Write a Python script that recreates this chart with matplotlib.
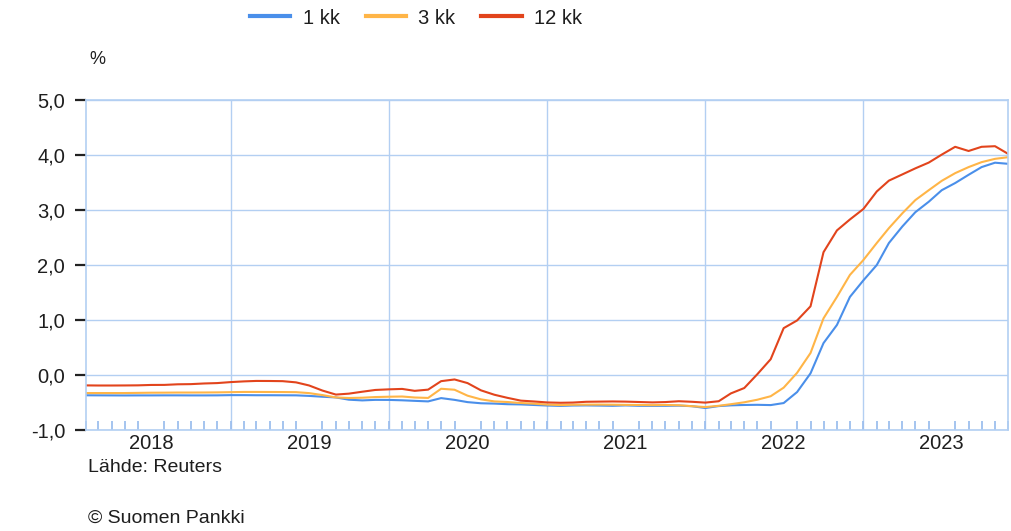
import numpy as np
import pandas as pd
import matplotlib
matplotlib.use("Agg")
import matplotlib.pyplot as plt
import matplotlib.dates as mdates
from matplotlib.ticker import FixedLocator, FuncFormatter

# Monthly averages, Jan 2018 .. Nov 2023
months = pd.period_range("2018-01", "2023-11", freq="M")

kk1 = [
    -0.369, -0.370, -0.371, -0.372, -0.371, -0.371, -0.370, -0.370, -0.371, -0.371, -0.370, -0.366,
    -0.366, -0.368, -0.368, -0.369, -0.370, -0.380, -0.395, -0.408, -0.449, -0.462, -0.452, -0.453,
    -0.460, -0.470, -0.480, -0.420, -0.452, -0.493, -0.514, -0.520, -0.531, -0.535, -0.545, -0.555,
    -0.562, -0.555, -0.553, -0.556, -0.560, -0.553, -0.560, -0.561, -0.560, -0.557, -0.567, -0.600,
    -0.565, -0.552, -0.545, -0.542, -0.547, -0.510, -0.310, 0.030, 0.580, 0.910, 1.420, 1.720,
    2.000, 2.400, 2.700, 2.960, 3.150, 3.360, 3.490, 3.640, 3.780, 3.860, 3.840,
]
kk3 = [
    -0.328, -0.328, -0.328, -0.328, -0.325, -0.322, -0.321, -0.319, -0.319, -0.318, -0.316, -0.312,
    -0.308, -0.308, -0.309, -0.310, -0.312, -0.329, -0.365, -0.408, -0.418, -0.413, -0.401, -0.395,
    -0.391, -0.409, -0.417, -0.250, -0.268, -0.376, -0.443, -0.480, -0.491, -0.509, -0.521, -0.538,
    -0.547, -0.541, -0.539, -0.538, -0.540, -0.543, -0.545, -0.548, -0.545, -0.550, -0.567, -0.583,
    -0.560, -0.531, -0.496, -0.450, -0.386, -0.230, 0.040, 0.400, 1.030, 1.420, 1.820, 2.090,
    2.400, 2.670, 2.940, 3.180, 3.360, 3.530, 3.670, 3.780, 3.870, 3.930, 3.960,
]
kk12 = [
    -0.189, -0.191, -0.191, -0.190, -0.188, -0.181, -0.180, -0.169, -0.166, -0.154, -0.147, -0.129,
    -0.116, -0.108, -0.109, -0.112, -0.134, -0.190, -0.283, -0.356, -0.339, -0.304, -0.272, -0.261,
    -0.253, -0.288, -0.266, -0.112, -0.081, -0.147, -0.279, -0.359, -0.415, -0.466, -0.481, -0.499,
    -0.505, -0.501, -0.487, -0.484, -0.481, -0.484, -0.491, -0.498, -0.492, -0.477, -0.487, -0.502,
    -0.477, -0.335, -0.237, 0.013, 0.287, 0.852, 0.992, 1.249, 2.233, 2.629, 2.828, 3.018,
    3.337, 3.534, 3.647, 3.757, 3.862, 4.007, 4.149, 4.073, 4.149, 4.160, 4.022,
]
series_labels = ["1 kk", "3 kk", "12 kk"]
years = [2018, 2019, 2020, 2021, 2022, 2023]
y_ticks = [-1.0, 0.0, 1.0, 2.0, 3.0, 4.0, 5.0]

colors = ["#4a8fea", "#ffb547", "#e2441c"]
grid_c = "#b3cff2"
tick_c = "#9dbfee"
text_c = "#1e1e1e"

plt.rcParams["font.family"] = ["Liberation Sans", "DejaVu Sans"]

fig = plt.figure(figsize=(10.12, 5.31), dpi=100)
ax = fig.add_axes([86 / 1012, 1 - 430 / 531, (1008 - 86) / 1012, 330 / 531])

# plot monthly average at the end of its month
x = months.to_timestamp(how="end").normalize() + pd.Timedelta(days=1)
lines = []
for vals, c, lab in zip([kk1, kk3, kk12], colors, series_labels):
    (ln,) = ax.plot(x, vals, color=c, lw=1.5, label=lab, solid_joinstyle="round")
    lines.append(ln)

ax.set_xlim(x[0], x[-1])
ax.set_ylim(-1.0, 5.0)

# grid
ax.set_yticks(y_ticks)
ax.yaxis.set_major_formatter(FuncFormatter(lambda v, p: f"{v:.1f}".replace(".", ",")))
ax.yaxis.grid(True, color=grid_c, lw=1.0)
for yr in years[1:]:
    ax.axvline(pd.Timestamp(f"{yr}-01-01"), color=grid_c, lw=1.0, zorder=0.5)
ax.set_axisbelow(True)

# x labels at mid-year, monthly minor ticks inside
mid = [mdates.date2num(pd.Timestamp(f"{yr}-07-01")) for yr in years]
ax.xaxis.set_major_locator(FixedLocator(mid))
ax.xaxis.set_major_formatter(FuncFormatter(lambda v, p: str(mdates.num2date(v).year)))
ax.xaxis.set_minor_locator(mdates.MonthLocator())
ax.tick_params(axis="x", which="major", length=0, pad=3, labelsize=14.5, labelcolor=text_c)
ax.tick_params(axis="x", which="minor", direction="in", length=6.5, width=1.3, color=tick_c)
ax.tick_params(axis="y", which="major", direction="out", length=8, width=1.6,
               color="#222222", pad=7, labelsize=14.5, labelcolor=text_c)

for s in ax.spines.values():
    s.set_color(grid_c)
    s.set_linewidth(1.2)

fig.legend(handles=lines, labels=series_labels, loc="center", ncol=3,
           bbox_to_anchor=(416 / 1012, 1 - 18 / 531), frameon=False,
           fontsize=14.5, handlelength=2.0, handletextpad=0.6, columnspacing=1.3,
           labelcolor=text_c)
for lh in fig.legends[0].get_lines():
    lh.set_linewidth(3)

fig.text(97 / 1012, 1 - 60 / 531, "%", ha="center", va="center", fontsize=13, color=text_c)
fig.text(88 / 1012, 1 - 468 / 531, "Lähde: Reuters", ha="left", va="center", fontsize=14, color=text_c)
fig.text(88 / 1012, 1 - 518 / 531, "© Suomen Pankki", ha="left", va="center", fontsize=14, color=text_c)

fig.savefig("out.png", dpi=100, facecolor="white")
